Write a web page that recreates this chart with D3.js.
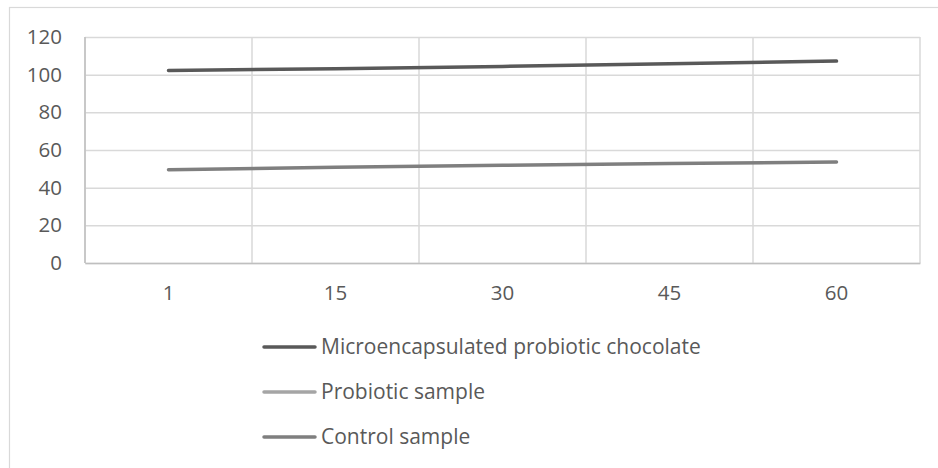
<!DOCTYPE html>
<html>
<head>
<meta charset="utf-8">
<script src="https://cdn.jsdelivr.net/npm/d3@7"></script>
<style>
  html, body { margin: 0; padding: 0; background: #fff; }
  svg { display: block; }
  text { font-family: "Open Sans", "Noto Sans", sans-serif; fill: #595959; }
</style>
</head>
<body>
<svg id="chart" width="938" height="468"></svg>
<script>
const categories = ["1", "15", "30", "45", "60"];
const microencapsulated = [102.2, 103.2, 104.4, 105.8, 107.2];
const probiotic = [null, null, null, null, null];
const control = [49.5, 50.9, 51.9, 52.8, 53.6];
const yTicks = [0, 20, 40, 60, 80, 100, 120];
const seriesNames = ["Microencapsulated probiotic chocolate", "Probiotic sample", "Control sample"];
const seriesColors = ["#595959", "#a5a5a5", "#7f7f7f"];

const series = [
  { name: seriesNames[0], values: microencapsulated, color: seriesColors[0] },
  { name: seriesNames[1], values: probiotic, color: seriesColors[1] },
  { name: seriesNames[2], values: control, color: seriesColors[2] }
];

const svg = d3.select("#chart");
const plotL = 85, plotR = 920, plotT = 37, plotB = 263;
const fs = 20.5;

// outer chart border (only top and left visible)
svg.append("rect").attr("x", 9.5).attr("y", 7.5).attr("width", 960).attr("height", 500)
  .attr("fill", "none").attr("stroke", "#d9d9d9").attr("stroke-width", 1.2);

const x = d3.scaleBand().domain(categories).range([plotL, plotR]);
const y = d3.scaleLinear().domain([0, 120]).range([plotB, plotT]);

// horizontal gridlines + y labels
const yAxis = svg.append("g").attr("transform", `translate(${plotL},0)`)
  .call(d3.axisLeft(y).tickValues(yTicks).tickSize(-(plotR - plotL)).tickPadding(23));
yAxis.select(".domain").remove();
yAxis.selectAll(".tick line").attr("stroke", "#d9d9d9").attr("stroke-width", 1.5);
yAxis.selectAll(".tick text").attr("font-size", fs).style("fill", "#595959")
  .style("font-family", "'Open Sans', sans-serif");

// vertical gridlines at band boundaries
const bounds = categories.map(c => x(c)).concat([x(categories[categories.length - 1]) + x.bandwidth()]);
svg.append("g").selectAll("line").data(bounds).join("line")
  .attr("x1", d => d).attr("x2", d => d).attr("y1", plotT).attr("y2", plotB)
  .attr("stroke", "#d9d9d9").attr("stroke-width", 1.5);

// x axis
const xAxis = svg.append("g").attr("transform", `translate(0,${plotB})`)
  .call(d3.axisBottom(x).tickSize(0).tickPadding(22));
xAxis.select(".domain").attr("stroke", "#bfbfbf").attr("stroke-width", 1.5);
xAxis.selectAll(".tick text").attr("font-size", fs).style("fill", "#595959")
  .style("font-family", "'Open Sans', sans-serif");

// left axis line
svg.append("line").attr("x1", plotL).attr("x2", plotL).attr("y1", plotT).attr("y2", plotB)
  .attr("stroke", "#bfbfbf").attr("stroke-width", 1.5);

// lines
const line = d3.line()
  .defined(d => d.v !== null)
  .x(d => x(d.c) + x.bandwidth() / 2)
  .y(d => y(d.v));

svg.append("g").selectAll("path").data(series).join("path")
  .attr("d", s => line(categories.map((c, i) => ({ c, v: s.values[i] }))))
  .attr("fill", "none").attr("stroke", s => s.color).attr("stroke-width", 3.5)
  .attr("stroke-linecap", "round").attr("stroke-linejoin", "round");

// legend
const legendY = d3.scalePoint().domain(seriesNames).range([347, 437]);
const lg = svg.append("g").selectAll("g").data(series).join("g")
  .attr("transform", s => `translate(0,${legendY(s.name)})`);
lg.append("line").attr("x1", 264).attr("x2", 315).attr("y1", 0).attr("y2", 0)
  .attr("stroke", s => s.color).attr("stroke-width", 3.5).attr("stroke-linecap", "round");
lg.append("text").attr("x", 321).attr("y", 0).attr("dy", "0.35em")
  .attr("font-size", 21).text(s => s.name);
</script>
</body>
</html>
